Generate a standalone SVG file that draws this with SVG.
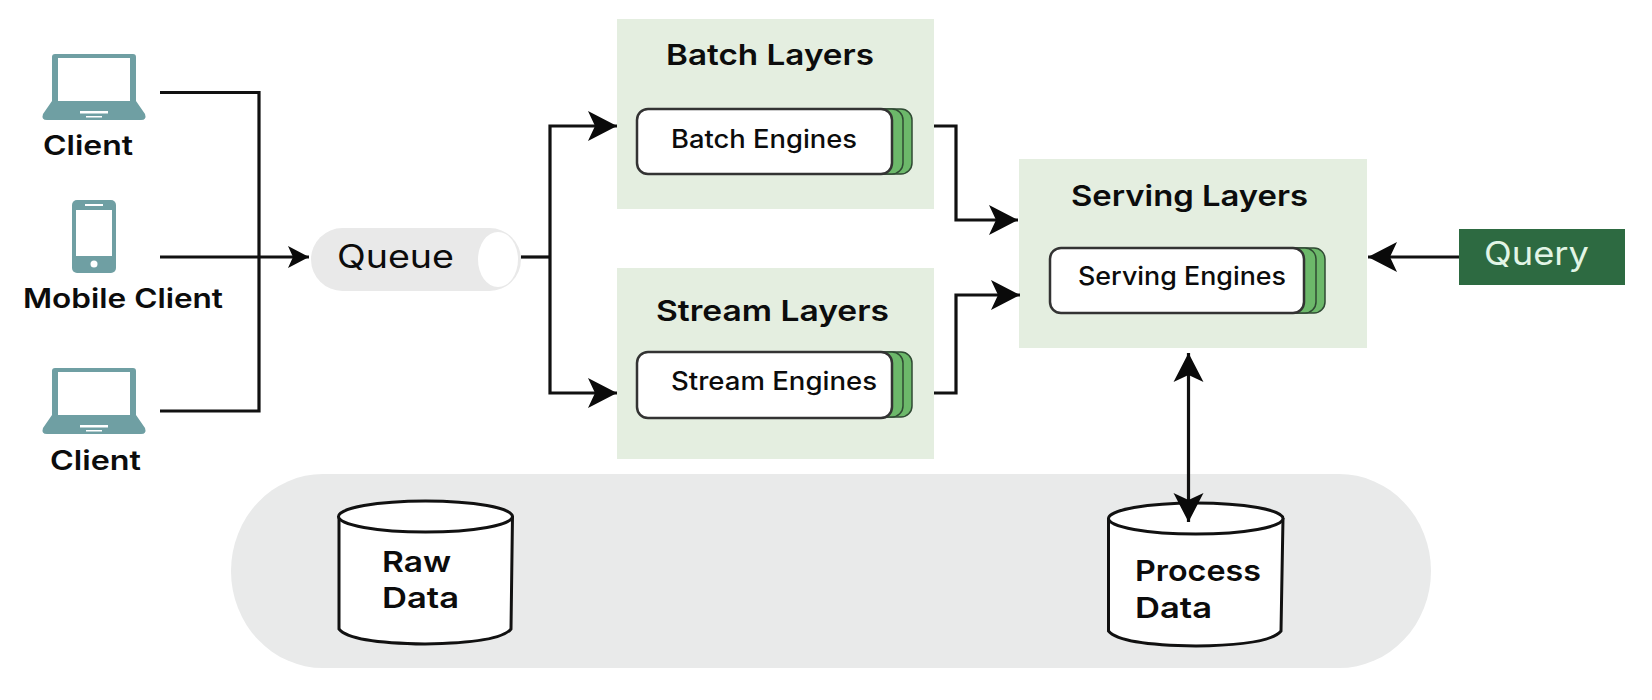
<svg xmlns="http://www.w3.org/2000/svg" width="1652" height="700" viewBox="0 0 1652 700">
<style>
text{font-family:"Inter","Noto Sans",sans-serif;fill:#0c0c0c}
.lbl{font-size:27px;font-weight:600}
.ttl{font-size:29px;font-weight:600}
.eng{font-size:25px;font-weight:500}
.dat{font-size:29px;font-weight:600}
.pan{fill:#e4eee0}
.dev{fill:#6f9fa3}
.scr{fill:#fff}
.st{fill:#6cb86a;stroke:#2f4a33;stroke-width:1.5}
.box{fill:#fff;stroke:#333;stroke-width:2.5}
.cyl{fill:#fff;stroke:#111;stroke-width:3}
.ln{fill:none;stroke:#111;stroke-width:3.2}
</style>
<defs>
<marker id="big" markerUnits="userSpaceOnUse" markerWidth="32" markerHeight="34" refX="29" refY="16" orient="auto-start-reverse" overflow="visible"><path d="M29 16L0 1L7 16L0 31Z" fill="#0a0a0a"/></marker>
<marker id="small" markerUnits="userSpaceOnUse" markerWidth="24" markerHeight="24" refX="21" refY="11" orient="auto" overflow="visible"><path d="M21 11L0 0L5 11L0 22Z" fill="#0a0a0a"/></marker>
<g id="laptop"><path class="dev" d="M55 54H133Q136 54 136 57V101L145 114Q147 120 141 120H47Q41 120 43 114L52 101V57Q52 54 55 54Z"/><rect class="scr" x="58" y="58" width="72" height="43"/><rect class="scr" x="80" y="111" width="28" height="2.500"/><rect class="scr" x="86" y="116" width="16" height="1.500"/></g>
<g id="stack"><rect class="st" x="220" y="0" width="40" height="65" rx="11"/><rect class="st" x="220" y="0" width="31" height="65" rx="11"/></g>
</defs>
<g id="storage"><rect x="231" y="474" width="1200" height="194" rx="92" ry="97" fill="#e9eaea"/></g>
<g id="client-1"><use href="#laptop"/><text class="lbl" x="88" y="155" text-anchor="middle" textLength="90" lengthAdjust="spacingAndGlyphs">Client</text></g>
<g id="mobile-client"><rect class="dev" x="72" y="200" width="44" height="73" rx="5"/><rect class="scr" x="76" y="210" width="36" height="46"/><rect class="scr" x="85" y="204" width="18" height="2"/><circle class="scr" cx="94" cy="264" r="3.500"/><text class="lbl" x="123" y="308" text-anchor="middle" textLength="200" lengthAdjust="spacingAndGlyphs">Mobile Client</text></g>
<g id="client-2"><use href="#laptop" y="314"/><text class="lbl" x="95.500" y="470" text-anchor="middle" textLength="91" lengthAdjust="spacingAndGlyphs">Client</text></g>
<g id="queue"><rect x="311" y="228" width="210" height="63" rx="31.500" fill="#e9e9e9"/><ellipse cx="498" cy="259.500" rx="20" ry="27.500" fill="#fff"/><text x="395.500" y="268" text-anchor="middle" font-size="32" textLength="117" lengthAdjust="spacingAndGlyphs">Queue</text></g>
<g id="batch-layers"><rect class="pan" x="617" y="19" width="317" height="190"/><text class="ttl" x="770" y="65" text-anchor="middle" textLength="208" lengthAdjust="spacingAndGlyphs">Batch Layers</text></g>
<g id="batch-engines"><use href="#stack" x="652" y="109"/><rect class="box" x="637" y="109" width="255" height="65" rx="11"/><text class="eng" x="764" y="148" text-anchor="middle" textLength="186" lengthAdjust="spacingAndGlyphs">Batch Engines</text></g>
<g id="stream-layers"><rect class="pan" x="617" y="268" width="317" height="191"/><text class="ttl" x="772.500" y="321" text-anchor="middle" textLength="233" lengthAdjust="spacingAndGlyphs">Stream Layers</text></g>
<g id="stream-engines"><use href="#stack" x="652" y="352"/><rect class="box" x="637" y="352" width="255" height="66" rx="11"/><text class="eng" x="774" y="390" text-anchor="middle" textLength="206" lengthAdjust="spacingAndGlyphs">Stream Engines</text></g>
<g id="serving-layers"><rect class="pan" x="1019" y="159" width="348" height="189"/><text class="ttl" x="1189.500" y="206" text-anchor="middle" textLength="237" lengthAdjust="spacingAndGlyphs">Serving Layers</text></g>
<g id="serving-engines"><use href="#stack" x="1065" y="248"/><rect class="box" x="1050" y="248" width="254" height="65" rx="11"/><text class="eng" x="1182" y="285" text-anchor="middle" textLength="208" lengthAdjust="spacingAndGlyphs">Serving Engines</text></g>
<g id="query"><rect x="1459" y="229" width="166" height="56" fill="#2d6a41"/><text x="1536.500" y="265" text-anchor="middle" font-size="33" textLength="105" lengthAdjust="spacingAndGlyphs" style="fill:#e2f5e6">Query</text></g>
<g id="raw-data"><path class="cyl" d="M339 516V629Q350 643 425 644Q500 643 511 629L512.500 516"/><ellipse class="cyl" cx="425.500" cy="516.500" rx="87" ry="15.500"/><text class="dat" x="382" y="572" textLength="69" lengthAdjust="spacingAndGlyphs">Raw</text><text class="dat" x="382" y="608" textLength="77" lengthAdjust="spacingAndGlyphs">Data</text></g>
<g id="process-data"><path class="cyl" d="M1108.500 518V631Q1120 645 1196 646Q1270 645 1281 631L1283 518"/><ellipse class="cyl" cx="1195.750" cy="518.500" rx="87.250" ry="15.500"/><text class="dat" x="1135" y="581" textLength="126" lengthAdjust="spacingAndGlyphs">Process</text><text class="dat" x="1135" y="618" textLength="77" lengthAdjust="spacingAndGlyphs">Data</text></g>
<g id="connectors">
<path class="ln" d="M160 92.500H259V411H160"/>
<path class="ln" d="M160 257H309" marker-end="url(#small)"/>
<path class="ln" d="M521 257H550"/>
<path class="ln" d="M550 257V126H617" marker-end="url(#big)"/>
<path class="ln" d="M550 257V393H617" marker-end="url(#big)"/>
<path class="ln" d="M934 126H956V220H1018" marker-end="url(#big)"/>
<path class="ln" d="M934 393H956V295H1020" marker-end="url(#big)"/>
<path class="ln" d="M1459 257H1368" marker-end="url(#big)"/>
<path class="ln" d="M1188.500 353V522" marker-start="url(#big)" marker-end="url(#big)"/>
</g>
</svg>
